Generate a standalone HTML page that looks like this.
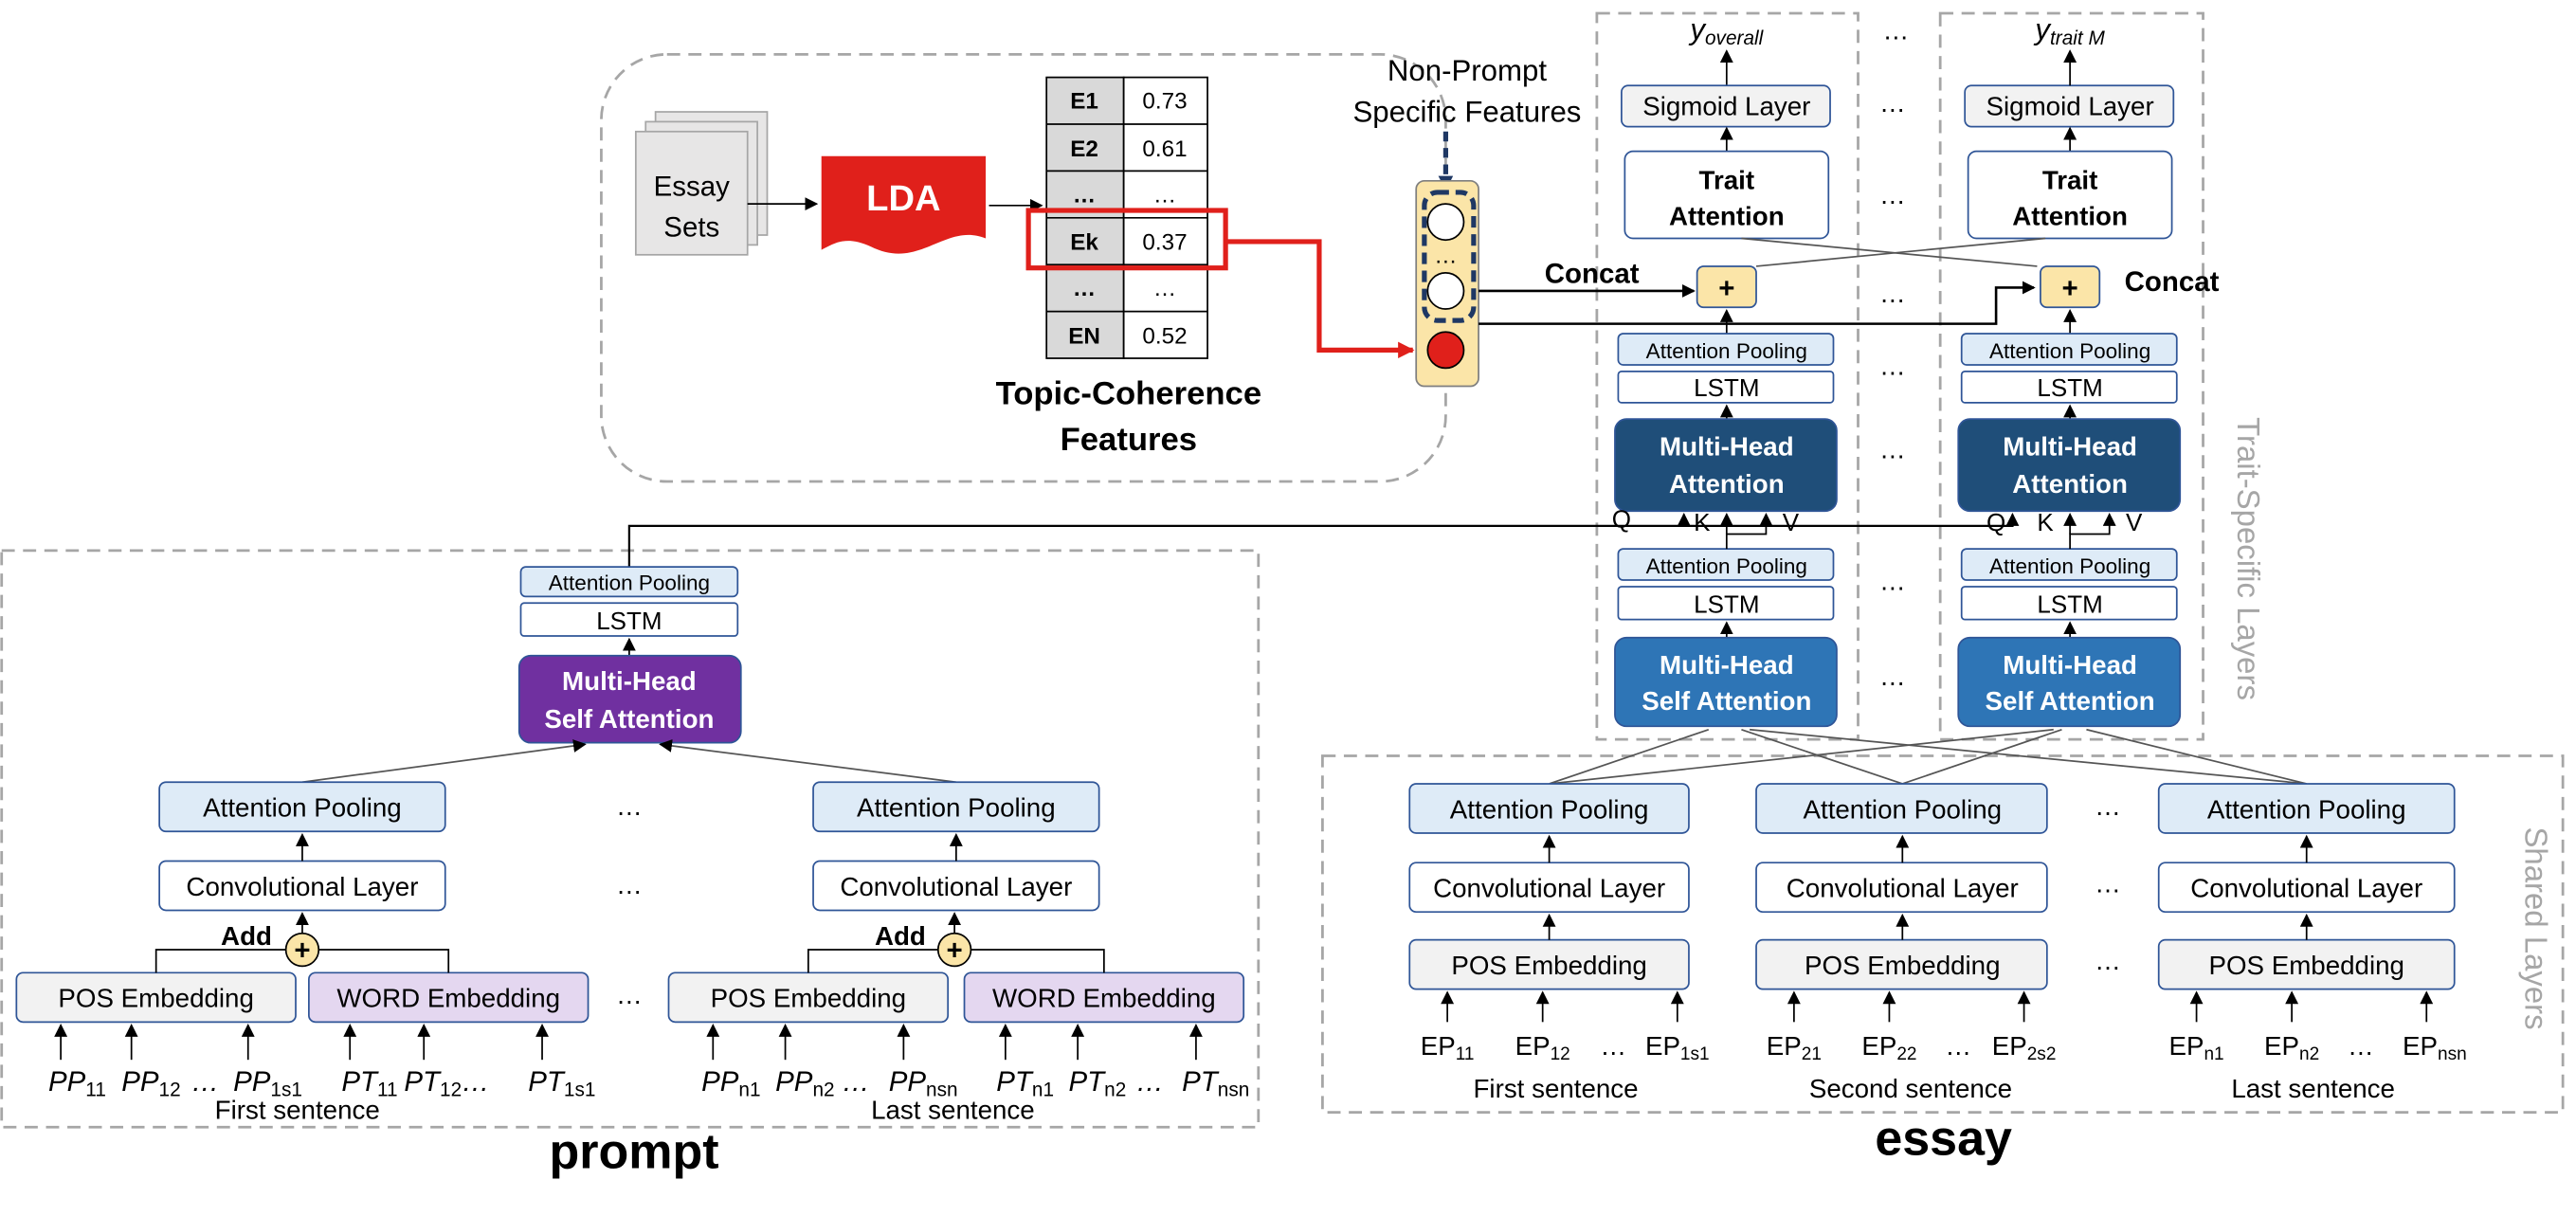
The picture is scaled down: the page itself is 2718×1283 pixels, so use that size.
<!DOCTYPE html>
<html><head><meta charset="utf-8"><style>
html,body{margin:0;padding:0;background:#fff}
svg{display:block}
text{font-family:"Liberation Sans",sans-serif;fill:#000}
.b{font-weight:bold}
</style></head><body>
<svg width="2718" height="1283" viewBox="0 0 1568 740" xmlns="http://www.w3.org/2000/svg">
<defs>
<marker id="a" markerWidth="8" markerHeight="8" refX="7" refY="4" orient="auto" markerUnits="userSpaceOnUse"><path d="M0,0 L8,4 L0,8 z" fill="#000"/></marker>
<marker id="r" markerWidth="10" markerHeight="10" refX="9" refY="5" orient="auto" markerUnits="userSpaceOnUse"><path d="M0,0 L10,5 L0,10 z" fill="#e0201b"/></marker>
<marker id="n" markerWidth="9" markerHeight="9" refX="8" refY="4.5" orient="auto" markerUnits="userSpaceOnUse"><path d="M0,0 L9,4.5 L0,9 z" fill="#1f3864"/></marker>
</defs>

<g fill="none" stroke="#a6a6a6" stroke-width="1.6" stroke-dasharray="8,5">
<rect x="366" y="33" width="514" height="260" rx="40"/>
<rect x="972" y="8" width="159" height="442"/>
<rect x="1181" y="8" width="160" height="442"/>
<rect x="805" y="460" width="755" height="217"/>
<rect x="1" y="335" width="765" height="351"/>
</g>

<g stroke="#a6a6a6" fill="#e7e6e6">
<rect x="399" y="68" width="68" height="75"/>
<rect x="393" y="74" width="68" height="75"/>
<rect x="387" y="80" width="68" height="75"/>
</g>
<text x="421" y="119" font-size="17" text-anchor="middle">Essay</text>
<text x="421" y="144" font-size="17" text-anchor="middle">Sets</text>
<line x1="455" y1="124" x2="497" y2="124" stroke="#000" marker-end="url(#a)"/>
<path d="M500,95 H600 V145 C575,135 560,165 530,150 C515,143 508,148 500,152 Z" fill="#e0201b"/>
<text x="550" y="128" font-size="22" class="b" text-anchor="middle" style="fill:#fff">LDA</text>
<line x1="602" y1="125" x2="634" y2="125" stroke="#000" marker-end="url(#a)"/>

<g stroke="#000" stroke-width="1">
<rect x="637" y="47" width="47" height="171" fill="#d9d9d9"/>
<rect x="684" y="47" width="51" height="171" fill="#fff"/>
<line x1="637" y1="75.5" x2="735" y2="75.5"/><line x1="637" y1="104" x2="735" y2="104"/>
<line x1="637" y1="132.5" x2="735" y2="132.5"/><line x1="637" y1="161" x2="735" y2="161"/>
<line x1="637" y1="189.5" x2="735" y2="189.5"/>
</g>
<g font-size="14" text-anchor="middle">
<text x="660" y="66" class="b">E1</text><text x="709" y="66">0.73</text>
<text x="660" y="95" class="b">E2</text><text x="709" y="95">0.61</text>
<text x="660" y="123" class="b">…</text><text x="709" y="123">…</text>
<text x="660" y="152" class="b">Ek</text><text x="709" y="152">0.37</text>
<text x="660" y="180" class="b">…</text><text x="709" y="180">…</text>
<text x="660" y="209" class="b">EN</text><text x="709" y="209">0.52</text>
</g>
<rect x="626" y="128" width="120" height="35" fill="none" stroke="#e0201b" stroke-width="3"/>
<polyline points="746,147 803,147 803,213 860,213" fill="none" stroke="#e0201b" stroke-width="3" marker-end="url(#r)"/>
<text x="687" y="246" font-size="20" class="b" text-anchor="middle">Topic-Coherence</text>
<text x="687" y="274" font-size="20" class="b" text-anchor="middle">Features</text>

<text x="893" y="49" font-size="18" text-anchor="middle">Non-Prompt</text>
<text x="893" y="74" font-size="18" text-anchor="middle">Specific Features</text>
<line x1="880" y1="80" x2="880" y2="115" stroke="#1f3864" stroke-width="3" stroke-dasharray="6,4" marker-end="url(#n)"/>
<rect x="862" y="110" width="38" height="125" rx="5" fill="#fbe5a8" stroke="#7f7f7f"/>
<rect x="867" y="117" width="30" height="78" rx="8" fill="none" stroke="#1f3864" stroke-width="3" stroke-dasharray="7,4"/>
<circle cx="880" cy="135" r="11" fill="#fff" stroke="#000"/>
<text x="880" y="160" font-size="14" text-anchor="middle">…</text>
<circle cx="880" cy="177" r="11" fill="#fff" stroke="#000"/>
<circle cx="880" cy="213" r="11" fill="#e0201b" stroke="#000"/>
<text x="969" y="172" font-size="17" class="b" text-anchor="middle">Concat</text>
<text x="1322" y="177" font-size="17" class="b" text-anchor="middle">Concat</text>
<line x1="900" y1="177" x2="1031" y2="177" stroke="#000" stroke-width="1.5" marker-end="url(#a)"/>
<polyline points="900,197 1215,197 1215,175 1238,175" fill="none" stroke="#000" stroke-width="1.5" marker-end="url(#a)"/>

<g id="col">
<text x="1051" y="24" font-size="18" font-style="italic" text-anchor="middle" font-family="Liberation Serif">y<tspan font-size="12" dy="3">overall</tspan></text>
<line x1="1051" y1="52" x2="1051" y2="31" stroke="#000" marker-end="url(#a)"/>
<rect x="987" y="52" width="127" height="25" rx="4" fill="#f2f2f2" stroke="#2f5597"/>
<text x="1051" y="70" font-size="16" text-anchor="middle">Sigmoid Layer</text>
<line x1="1051" y1="92" x2="1051" y2="78" stroke="#000" marker-end="url(#a)"/>
<rect x="989" y="92" width="124" height="53" rx="5" fill="#fff" stroke="#2f5597"/>
<text x="1051" y="115" font-size="16" class="b" text-anchor="middle">Trait</text>
<text x="1051" y="137" font-size="16" class="b" text-anchor="middle">Attention</text>
<rect x="1033" y="162" width="36" height="25" rx="4" fill="#fbe5a8" stroke="#2f5597"/>
<text x="1051" y="181" font-size="17" class="b" text-anchor="middle">+</text>
<line x1="1051" y1="203" x2="1051" y2="189" stroke="#000" marker-end="url(#a)"/>
<rect x="985" y="203" width="131" height="19" rx="3" fill="#deebf7" stroke="#2f5597"/>
<text x="1051" y="218" font-size="13" text-anchor="middle">Attention Pooling</text>
<rect x="985" y="226" width="131" height="19" rx="2" fill="#fff" stroke="#2f5597"/>
<text x="1051" y="241" font-size="15" text-anchor="middle">LSTM</text>
<line x1="1051" y1="255" x2="1051" y2="247" stroke="#000" marker-end="url(#a)"/>
<rect x="983" y="255" width="135" height="56" rx="7" fill="#1f4e79" stroke="#2f5597"/>
<text x="1051" y="277" font-size="16" class="b" text-anchor="middle" style="fill:#fff">Multi-Head</text>
<text x="1051" y="300" font-size="16" class="b" text-anchor="middle" style="fill:#fff">Attention</text>
<rect x="985" y="334" width="131" height="19" rx="3" fill="#deebf7" stroke="#2f5597"/>
<text x="1051" y="349" font-size="13" text-anchor="middle">Attention Pooling</text>
<rect x="985" y="357" width="131" height="20" rx="2" fill="#fff" stroke="#2f5597"/>
<text x="1051" y="373" font-size="15" text-anchor="middle">LSTM</text>
<line x1="1051" y1="388" x2="1051" y2="379" stroke="#000" marker-end="url(#a)"/>
<rect x="983" y="388" width="135" height="54" rx="7" fill="#2e75b6" stroke="#2f5597"/>
<text x="1051" y="410" font-size="16" class="b" text-anchor="middle" style="fill:#fff">Multi-Head</text>
<text x="1051" y="432" font-size="16" class="b" text-anchor="middle" style="fill:#fff">Self Attention</text>
<text x="987" y="321" font-size="15" text-anchor="middle">Q</text>
<text x="1036" y="323" font-size="15" text-anchor="middle">K</text>
<text x="1090" y="323" font-size="15" text-anchor="middle">V</text>
<polyline points="1051,334 1051,325 1075,325 1075,313" fill="none" stroke="#000" marker-end="url(#a)"/>
<line x1="1051" y1="325" x2="1051" y2="313" stroke="#000" marker-end="url(#a)"/>
</g>
<g transform="translate(209,0)">
<rect x="987" y="52" width="127" height="25" rx="4" fill="#f2f2f2" stroke="#2f5597"/>
<text x="1051" y="70" font-size="16" text-anchor="middle">Sigmoid Layer</text>
<line x1="1051" y1="52" x2="1051" y2="31" stroke="#000" marker-end="url(#a)"/>
<line x1="1051" y1="92" x2="1051" y2="78" stroke="#000" marker-end="url(#a)"/>
<rect x="989" y="92" width="124" height="53" rx="5" fill="#fff" stroke="#2f5597"/>
<text x="1051" y="115" font-size="16" class="b" text-anchor="middle">Trait</text>
<text x="1051" y="137" font-size="16" class="b" text-anchor="middle">Attention</text>
<rect x="1033" y="162" width="36" height="25" rx="4" fill="#fbe5a8" stroke="#2f5597"/>
<text x="1051" y="181" font-size="17" class="b" text-anchor="middle">+</text>
<line x1="1051" y1="203" x2="1051" y2="189" stroke="#000" marker-end="url(#a)"/>
<rect x="985" y="203" width="131" height="19" rx="3" fill="#deebf7" stroke="#2f5597"/>
<text x="1051" y="218" font-size="13" text-anchor="middle">Attention Pooling</text>
<rect x="985" y="226" width="131" height="19" rx="2" fill="#fff" stroke="#2f5597"/>
<text x="1051" y="241" font-size="15" text-anchor="middle">LSTM</text>
<line x1="1051" y1="255" x2="1051" y2="247" stroke="#000" marker-end="url(#a)"/>
<rect x="983" y="255" width="135" height="56" rx="7" fill="#1f4e79" stroke="#2f5597"/>
<text x="1051" y="277" font-size="16" class="b" text-anchor="middle" style="fill:#fff">Multi-Head</text>
<text x="1051" y="300" font-size="16" class="b" text-anchor="middle" style="fill:#fff">Attention</text>
<rect x="985" y="334" width="131" height="19" rx="3" fill="#deebf7" stroke="#2f5597"/>
<text x="1051" y="349" font-size="13" text-anchor="middle">Attention Pooling</text>
<rect x="985" y="357" width="131" height="20" rx="2" fill="#fff" stroke="#2f5597"/>
<text x="1051" y="373" font-size="15" text-anchor="middle">LSTM</text>
<line x1="1051" y1="388" x2="1051" y2="379" stroke="#000" marker-end="url(#a)"/>
<rect x="983" y="388" width="135" height="54" rx="7" fill="#2e75b6" stroke="#2f5597"/>
<text x="1051" y="410" font-size="16" class="b" text-anchor="middle" style="fill:#fff">Multi-Head</text>
<text x="1051" y="432" font-size="16" class="b" text-anchor="middle" style="fill:#fff">Self Attention</text>
<text x="1006" y="323" font-size="15" text-anchor="middle">Q</text>
<text x="1036" y="323" font-size="15" text-anchor="middle">K</text>
<text x="1090" y="323" font-size="15" text-anchor="middle">V</text>
<polyline points="1051,334 1051,325 1075,325 1075,313" fill="none" stroke="#000" marker-end="url(#a)"/>
<line x1="1051" y1="325" x2="1051" y2="313" stroke="#000" marker-end="url(#a)"/>
</g>
<text x="1260" y="24" font-size="18" font-style="italic" text-anchor="middle" font-family="Liberation Serif">y<tspan font-size="12" dy="3">trait M</tspan></text>

<g stroke="#555" stroke-width="1">
<line x1="1069" y1="162" x2="1245" y2="145"/>
<line x1="1240" y1="162" x2="1060" y2="145"/>
</g>

<g font-size="16" text-anchor="middle">
<text x="1154" y="24">…</text><text x="1152" y="68">…</text><text x="1152" y="124">…</text>
<text x="1152" y="184">…</text><text x="1152" y="228">…</text><text x="1152" y="279">…</text>
<text x="1152" y="359">…</text><text x="1152" y="417">…</text>
</g>

<text transform="translate(1362,340) rotate(90)" font-size="19" text-anchor="middle" style="fill:#a6a6a6">Trait-Specific Layers</text>
<text transform="translate(1537,565) rotate(90)" font-size="19" text-anchor="middle" style="fill:#a6a6a6">Shared Layers</text>

<polyline points="383,345 383,320 1025,320 1025,313" fill="none" stroke="#000" stroke-width="1.3" marker-end="url(#a)"/>
<polyline points="1025,320 1225,320 1225,313" fill="none" stroke="#000" stroke-width="1.3" marker-end="url(#a)"/>

<g stroke="#555" stroke-width="1">
<line x1="943" y1="477" x2="1040" y2="444"/><line x1="943" y1="477" x2="1250" y2="444"/>
<line x1="1158" y1="477" x2="1060" y2="444"/><line x1="1158" y1="477" x2="1255" y2="444"/>
<line x1="1404" y1="477" x2="1065" y2="444"/><line x1="1404" y1="477" x2="1270" y2="444"/>
</g>
<g font-size="16" text-anchor="middle">
<rect x="858" y="477" width="170" height="30" rx="4" fill="#deebf7" stroke="#2f5597"/><text x="943" y="498">Attention Pooling</text>
<rect x="858" y="525" width="170" height="30" rx="4" fill="#fff" stroke="#2f5597"/><text x="943" y="546">Convolutional Layer</text>
<rect x="858" y="572" width="170" height="30" rx="4" fill="#f2f2f2" stroke="#2f5597"/><text x="943" y="593">POS Embedding</text>
<rect x="1069" y="477" width="177" height="30" rx="4" fill="#deebf7" stroke="#2f5597"/><text x="1158" y="498">Attention Pooling</text>
<rect x="1069" y="525" width="177" height="30" rx="4" fill="#fff" stroke="#2f5597"/><text x="1158" y="546">Convolutional Layer</text>
<rect x="1069" y="572" width="177" height="30" rx="4" fill="#f2f2f2" stroke="#2f5597"/><text x="1158" y="593">POS Embedding</text>
<rect x="1314" y="477" width="180" height="30" rx="4" fill="#deebf7" stroke="#2f5597"/><text x="1404" y="498">Attention Pooling</text>
<rect x="1314" y="525" width="180" height="30" rx="4" fill="#fff" stroke="#2f5597"/><text x="1404" y="546">Convolutional Layer</text>
<rect x="1314" y="572" width="180" height="30" rx="4" fill="#f2f2f2" stroke="#2f5597"/><text x="1404" y="593">POS Embedding</text>
<text x="1283" y="496">…</text><text x="1283" y="543">…</text><text x="1283" y="590">…</text>
</g>
<g stroke="#000">
<line x1="943" y1="525" x2="943" y2="509" marker-end="url(#a)"/><line x1="943" y1="572" x2="943" y2="557" marker-end="url(#a)"/>
<line x1="1158" y1="525" x2="1158" y2="509" marker-end="url(#a)"/><line x1="1158" y1="572" x2="1158" y2="557" marker-end="url(#a)"/>
<line x1="1404" y1="525" x2="1404" y2="509" marker-end="url(#a)"/><line x1="1404" y1="572" x2="1404" y2="557" marker-end="url(#a)"/>
<line x1="881" y1="622" x2="881" y2="604" marker-end="url(#a)"/><line x1="939" y1="622" x2="939" y2="604" marker-end="url(#a)"/><line x1="1021" y1="622" x2="1021" y2="604" marker-end="url(#a)"/>
<line x1="1092" y1="622" x2="1092" y2="604" marker-end="url(#a)"/><line x1="1150" y1="622" x2="1150" y2="604" marker-end="url(#a)"/><line x1="1232" y1="622" x2="1232" y2="604" marker-end="url(#a)"/>
<line x1="1337" y1="622" x2="1337" y2="604" marker-end="url(#a)"/><line x1="1395" y1="622" x2="1395" y2="604" marker-end="url(#a)"/><line x1="1477" y1="622" x2="1477" y2="604" marker-end="url(#a)"/>
</g>
<g font-size="16" font-family="Liberation Serif" text-anchor="middle">
<text x="881" y="642">EP<tspan font-size="11" dy="3">11</tspan></text><text x="939" y="642">EP<tspan font-size="11" dy="3">12</tspan></text><text x="982" y="642">…</text><text x="1021" y="642">EP<tspan font-size="11" dy="3">1s1</tspan></text>
<text x="1092" y="642">EP<tspan font-size="11" dy="3">21</tspan></text><text x="1150" y="642">EP<tspan font-size="11" dy="3">22</tspan></text><text x="1192" y="642">…</text><text x="1232" y="642">EP<tspan font-size="11" dy="3">2s2</tspan></text>
<text x="1337" y="642">EP<tspan font-size="11" dy="3">n1</tspan></text><text x="1395" y="642">EP<tspan font-size="11" dy="3">n2</tspan></text><text x="1437" y="642">…</text><text x="1482" y="642">EP<tspan font-size="11" dy="3">nsn</tspan></text>
</g>
<g font-size="16" text-anchor="middle">
<text x="947" y="668">First sentence</text><text x="1163" y="668">Second sentence</text><text x="1408" y="668">Last sentence</text>
</g>
<text x="1183" y="703" font-size="30" class="b" text-anchor="middle">essay</text>

<rect x="317" y="345" width="132" height="18" rx="3" fill="#deebf7" stroke="#2f5597"/>
<text x="383" y="359" font-size="13" text-anchor="middle">Attention Pooling</text>
<rect x="317" y="367" width="132" height="20" rx="2" fill="#fff" stroke="#2f5597"/>
<text x="383" y="383" font-size="15" text-anchor="middle">LSTM</text>
<line x1="383" y1="399" x2="383" y2="389" stroke="#000" marker-end="url(#a)"/>
<rect x="316" y="399" width="135" height="53" rx="7" fill="#7030a0" stroke="#2f5597"/>
<text x="383" y="420" font-size="16" class="b" text-anchor="middle" style="fill:#fff">Multi-Head</text>
<text x="383" y="443" font-size="16" class="b" text-anchor="middle" style="fill:#fff">Self Attention</text>
<line x1="184" y1="476" x2="356" y2="453" stroke="#555" marker-end="url(#a)"/>
<line x1="582" y1="476" x2="402" y2="453" stroke="#555" marker-end="url(#a)"/>
<g font-size="16" text-anchor="middle">
<rect x="97" y="476" width="174" height="30" rx="4" fill="#deebf7" stroke="#2f5597"/><text x="184" y="497">Attention Pooling</text>
<rect x="97" y="524" width="174" height="30" rx="4" fill="#fff" stroke="#2f5597"/><text x="184" y="545">Convolutional Layer</text>
<rect x="10" y="592" width="170" height="30" rx="4" fill="#f2f2f2" stroke="#2f5597"/><text x="95" y="613">POS Embedding</text>
<rect x="188" y="592" width="170" height="30" rx="4" fill="#e4d7f0" stroke="#2f5597"/><text x="273" y="613">WORD Embedding</text>
<rect x="495" y="476" width="174" height="30" rx="4" fill="#deebf7" stroke="#2f5597"/><text x="582" y="497">Attention Pooling</text>
<rect x="495" y="524" width="174" height="30" rx="4" fill="#fff" stroke="#2f5597"/><text x="582" y="545">Convolutional Layer</text>
<rect x="407" y="592" width="170" height="30" rx="4" fill="#f2f2f2" stroke="#2f5597"/><text x="492" y="613">POS Embedding</text>
<rect x="587" y="592" width="170" height="30" rx="4" fill="#e4d7f0" stroke="#2f5597"/><text x="672" y="613">WORD Embedding</text>
<text x="383" y="496">…</text><text x="383" y="544">…</text><text x="383" y="611">…</text>
<text x="150" y="575" class="b">Add</text><text x="548" y="575" class="b">Add</text>
</g>
<g stroke="#000" fill="none">
<line x1="184" y1="524" x2="184" y2="508" marker-end="url(#a)"/>
<line x1="582" y1="524" x2="582" y2="508" marker-end="url(#a)"/>
<polyline points="95,592 95,578 174,578"/><polyline points="273,592 273,578 194,578"/>
<line x1="184" y1="568" x2="184" y2="556" marker-end="url(#a)"/>
<polyline points="492,592 492,578 571,578"/><polyline points="672,592 672,578 591,578"/>
<line x1="581" y1="568" x2="581" y2="556" marker-end="url(#a)"/>
</g>
<circle cx="184" cy="578" r="10" fill="#fbe5a8" stroke="#000"/><text x="184" y="584" font-size="17" class="b" text-anchor="middle">+</text>
<circle cx="581" cy="578" r="10" fill="#fbe5a8" stroke="#000"/><text x="581" y="584" font-size="17" class="b" text-anchor="middle">+</text>
<g stroke="#000">
<line x1="37" y1="645" x2="37" y2="624" marker-end="url(#a)"/><line x1="80" y1="645" x2="80" y2="624" marker-end="url(#a)"/><line x1="151" y1="645" x2="151" y2="624" marker-end="url(#a)"/>
<line x1="213" y1="645" x2="213" y2="624" marker-end="url(#a)"/><line x1="258" y1="645" x2="258" y2="624" marker-end="url(#a)"/><line x1="330" y1="645" x2="330" y2="624" marker-end="url(#a)"/>
<line x1="434" y1="645" x2="434" y2="624" marker-end="url(#a)"/><line x1="478" y1="645" x2="478" y2="624" marker-end="url(#a)"/><line x1="550" y1="645" x2="550" y2="624" marker-end="url(#a)"/>
<line x1="612" y1="645" x2="612" y2="624" marker-end="url(#a)"/><line x1="656" y1="645" x2="656" y2="624" marker-end="url(#a)"/><line x1="728" y1="645" x2="728" y2="624" marker-end="url(#a)"/>
</g>
<g font-size="17" font-family="Liberation Serif" font-style="italic" text-anchor="middle">
<text x="47" y="664">PP<tspan font-size="12" dy="3" font-style="normal">11</tspan></text>
<text x="92" y="664">PP<tspan font-size="12" dy="3" font-style="normal">12</tspan></text>
<text x="125" y="664">…</text>
<text x="163" y="664">PP<tspan font-size="12" dy="3" font-style="normal">1s1</tspan></text>
<text x="225" y="664">PT<tspan font-size="12" dy="3" font-style="normal">11</tspan></text>
<text x="272" y="664">PT<tspan font-size="12" dy="3" font-style="normal">12</tspan><tspan dy="-3">…</tspan></text>
<text x="342" y="664">PT<tspan font-size="12" dy="3" font-style="normal">1s1</tspan></text>
<text x="445" y="664">PP<tspan font-size="12" dy="3" font-style="normal">n1</tspan></text>
<text x="490" y="664">PP<tspan font-size="12" dy="3" font-style="normal">n2</tspan></text>
<text x="521" y="664">…</text>
<text x="562" y="664">PP<tspan font-size="12" dy="3" font-style="normal">nsn</tspan></text>
<text x="624" y="664">PT<tspan font-size="12" dy="3" font-style="normal">n1</tspan></text>
<text x="668" y="664">PT<tspan font-size="12" dy="3" font-style="normal">n2</tspan></text>
<text x="700" y="664">…</text>
<text x="740" y="664">PT<tspan font-size="12" dy="3" font-style="normal">nsn</tspan></text>
</g>
<text x="181" y="681" font-size="16" text-anchor="middle">First sentence</text>
<text x="580" y="681" font-size="16" text-anchor="middle">Last sentence</text>
<text x="386" y="711" font-size="30" class="b" text-anchor="middle">prompt</text>
</svg>
</body></html>
